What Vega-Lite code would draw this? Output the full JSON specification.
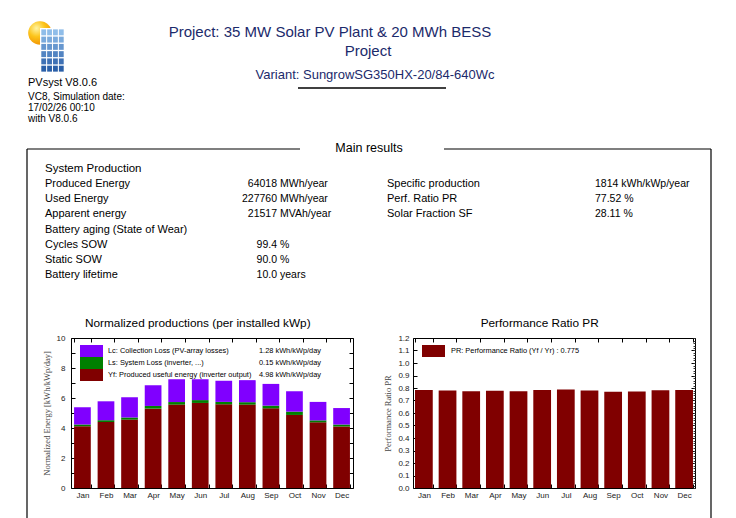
{
"$schema": "https://vega.github.io/schema/vega-lite/v6.json",
"padding": 0,
"background": "white",
"autosize": {"type": "pad"},
"config": {
  "font": "Liberation Sans",
  "view": {"stroke": null},
  "axis": {"grid": false, "labelFont": "Liberation Sans"},
  "title": {"font": "Liberation Sans"},
  "text": {"font": "Liberation Sans"}
},
"datasets": {
  "header": [
    {"role": "app", "line": 0, "text": "PVsyst  V8.0.6"},
    {"role": "meta", "line": 1, "text": "VC8, Simulation date:"},
    {"role": "meta", "line": 2, "text": "17/02/26 00:10"},
    {"role": "meta", "line": 3, "text": "with V8.0.6"},
    {"role": "title", "line": 1, "text": "Project: 35 MW Solar PV Plant & 20 MWh BESS"},
    {"role": "title", "line": 2, "text": "Project"},
    {"role": "variant", "line": 1, "text": "Variant: SungrowSG350HX-20/84-640Wc"},
    {"role": "section", "line": 1, "text": "Main results"},
    {"role": "group", "line": 1, "text": "System  Production"}
  ],
  "results": [
    {"block": "L", "row": 1, "item": "Produced Energy", "num": "64018", "unit": "MWh/year", "value": "64018 MWh/year"},
    {"block": "L", "row": 2, "item": "Used Energy", "num": "227760", "unit": "MWh/year", "value": "227760 MWh/year"},
    {"block": "L", "row": 3, "item": "Apparent energy", "num": "21517", "unit": "MVAh/year", "value": "21517 MVAh/year"},
    {"block": "L", "row": 4, "item": "Battery aging (State of Wear)", "num": "", "unit": "", "value": ""},
    {"block": "L", "row": 5, "item": "Cycles SOW", "num": "99.4", "unit": "%", "value": "99.4 %"},
    {"block": "L", "row": 6, "item": "Static SOW", "num": "90.0", "unit": "%", "value": "90.0 %"},
    {"block": "L", "row": 7, "item": "Battery lifetime", "num": "10.0", "unit": "years", "value": "10.0 years"},
    {"block": "R", "row": 1, "item": "Specific production", "num": "1814", "unit": "kWh/kWp/year", "value": "1814 kWh/kWp/year"},
    {"block": "R", "row": 2, "item": "Perf. Ratio PR", "num": "77.52", "unit": "%", "value": "77.52 %"},
    {"block": "R", "row": 3, "item": "Solar Fraction SF", "num": "28.11", "unit": "%", "value": "28.11 %"}
  ],
  "logo": [
    {"c": 0, "r": 0}, {"c": 1, "r": 0}, {"c": 2, "r": 0}, {"c": 3, "r": 0},
    {"c": 0, "r": 1}, {"c": 1, "r": 1}, {"c": 2, "r": 1}, {"c": 3, "r": 1},
    {"c": 0, "r": 2}, {"c": 1, "r": 2}, {"c": 2, "r": 2}, {"c": 3, "r": 2},
    {"c": 0, "r": 3}, {"c": 1, "r": 3}, {"c": 2, "r": 3}, {"c": 3, "r": 3},
    {"c": 0, "r": 4}, {"c": 1, "r": 4}, {"c": 2, "r": 4}, {"c": 3, "r": 4},
    {"c": 0, "r": 5}, {"c": 1, "r": 5}, {"c": 2, "r": 5}, {"c": 3, "r": 5}
  ],
  "norm": [
    {"month": "Jan", "Yf": 4.11, "Ls": 0.12, "Lc": 1.16},
    {"month": "Feb", "Yf": 4.40, "Ls": 0.12, "Lc": 1.26},
    {"month": "Mar", "Yf": 4.56, "Ls": 0.14, "Lc": 1.35},
    {"month": "Apr", "Yf": 5.29, "Ls": 0.18, "Lc": 1.38},
    {"month": "May", "Yf": 5.56, "Ls": 0.17, "Lc": 1.52},
    {"month": "Jun", "Yf": 5.67, "Ls": 0.19, "Lc": 1.39},
    {"month": "Jul", "Yf": 5.58, "Ls": 0.16, "Lc": 1.41},
    {"month": "Aug", "Yf": 5.56, "Ls": 0.16, "Lc": 1.47},
    {"month": "Sep", "Yf": 5.31, "Ls": 0.18, "Lc": 1.45},
    {"month": "Oct", "Yf": 4.87, "Ls": 0.22, "Lc": 1.36},
    {"month": "Nov", "Yf": 4.38, "Ls": 0.13, "Lc": 1.23},
    {"month": "Dec", "Yf": 4.10, "Ls": 0.13, "Lc": 1.10}
  ],
  "normLegend": [
    {"k": "Lc", "label": "Lc: Collection Loss (PV-array losses)", "val": "1.28 kWh/kWp/day"},
    {"k": "Ls", "label": "Ls: System Loss  (inverter, ...)", "val": "0.15 kWh/kWp/day"},
    {"k": "Yf", "label": "Yf: Produced useful energy  (inverter output)", "val": "4.98 kWh/kWp/day"}
  ],
  "pr": [
    {"month": "Jan", "PR": 0.785}, {"month": "Feb", "PR": 0.780}, {"month": "Mar", "PR": 0.774},
    {"month": "Apr", "PR": 0.779}, {"month": "May", "PR": 0.774}, {"month": "Jun", "PR": 0.785},
    {"month": "Jul", "PR": 0.788}, {"month": "Aug", "PR": 0.780}, {"month": "Sep", "PR": 0.770},
    {"month": "Oct", "PR": 0.773}, {"month": "Nov", "PR": 0.782}, {"month": "Dec", "PR": 0.785}
  ],
  "prLegend": [
    {"k": "PR", "label": "PR: Performance Ratio (Yf / Yr) :  0.775"}
  ]
},
"spacing": 0,
"bounds": "flush",
"vconcat": [
  {
    "width": 736,
    "height": 338,
    "data": {"values": [{"doc": "report page"}]},
    "resolve": {"scale": {"x": "independent", "y": "independent", "color": "independent"}},
    "layer": [
      {"mark": {"type": "rule", "color": "#000", "strokeWidth": 1.2},
       "encoding": {
         "x": {"datum": 27, "type": "quantitative", "scale": {"domain": [0, 736], "range": [0, 736], "nice": false, "zero": false}, "axis": null},
         "x2": {"datum": 300},
         "y": {"datum": 149, "type": "quantitative", "scale": {"domain": [0, 338], "range": [0, 338], "nice": false, "zero": false}, "axis": null}}},
      {"mark": {"type": "rule", "color": "#000", "strokeWidth": 1.2},
       "encoding": {
         "x": {"datum": 444, "type": "quantitative", "scale": {"domain": [0, 736], "range": [0, 736], "nice": false, "zero": false}, "axis": null},
         "x2": {"datum": 711},
         "y": {"datum": 149, "type": "quantitative", "scale": {"domain": [0, 338], "range": [0, 338], "nice": false, "zero": false}, "axis": null}}},
      {"mark": {"type": "rule", "color": "#000", "strokeWidth": 1.2},
       "encoding": {
         "x": {"datum": 27, "type": "quantitative", "scale": {"domain": [0, 736], "range": [0, 736], "nice": false, "zero": false}, "axis": null},
         "y": {"datum": 149, "type": "quantitative", "scale": {"domain": [0, 338], "range": [0, 338], "nice": false, "zero": false}, "axis": null},
         "y2": {"datum": 518}}},
      {"mark": {"type": "rule", "color": "#000", "strokeWidth": 1.2},
       "encoding": {
         "x": {"datum": 711, "type": "quantitative", "scale": {"domain": [0, 736], "range": [0, 736], "nice": false, "zero": false}, "axis": null},
         "y": {"datum": 149, "type": "quantitative", "scale": {"domain": [0, 338], "range": [0, 338], "nice": false, "zero": false}, "axis": null},
         "y2": {"datum": 518}}},
      {"mark": {"type": "rule", "color": "#000", "strokeWidth": 1.5},
       "encoding": {
         "x": {"datum": 298, "type": "quantitative", "scale": {"domain": [0, 736], "range": [0, 736], "nice": false, "zero": false}, "axis": null},
         "x2": {"datum": 446},
         "y": {"datum": 88, "type": "quantitative", "scale": {"domain": [0, 338], "range": [0, 338], "nice": false, "zero": false}, "axis": null}}},
      {"mark": {"type": "point", "filled": true, "size": 556, "opacity": 1, "strokeWidth": 0,
                "fill": {"gradient": "radial", "x1": 0.35, "y1": 0.3, "r1": 0, "x2": 0.35, "y2": 0.3, "r2": 0.8,
                         "stops": [{"offset": 0, "color": "#fff4a3"}, {"offset": 0.45, "color": "#fcc419"}, {"offset": 1, "color": "#ee8a00"}]}},
       "encoding": {
         "x": {"datum": 40, "type": "quantitative", "scale": {"domain": [0, 736], "range": [0, 736], "nice": false, "zero": false}, "axis": null},
         "y": {"datum": 33, "type": "quantitative", "scale": {"domain": [0, 338], "range": [0, 338], "nice": false, "zero": false}, "axis": null}}},
      {"mark": {"type": "rect", "color": "#ffffff"},
       "encoding": {
         "x": {"datum": 40, "type": "quantitative", "scale": {"domain": [0, 736], "range": [0, 736], "nice": false, "zero": false}, "axis": null},
         "x2": {"datum": 65},
         "y": {"datum": 28, "type": "quantitative", "scale": {"domain": [0, 338], "range": [0, 338], "nice": false, "zero": false}, "axis": null},
         "y2": {"datum": 73}}},
      {"data": {"name": "logo"},
       "mark": {"type": "rect"},
       "encoding": {
         "x": {"field": "c", "type": "ordinal", "scale": {"type": "band", "range": [41, 64], "paddingInner": 0.18, "paddingOuter": 0.05}, "axis": null},
         "y": {"field": "r", "type": "ordinal", "scale": {"type": "band", "range": [29, 72], "paddingInner": 0.18, "paddingOuter": 0.05}, "axis": null},
         "color": {"field": "r", "type": "quantitative", "scale": {"range": ["#8fbde9", "#2a5fa8"]}, "legend": null}}},
      {"data": {"name": "header"}, "transform": [{"filter": "datum.role == 'app'"}],
       "mark": {"type": "text", "align": "left", "baseline": "middle", "fontSize": 11, "color": "#000"},
       "encoding": {
         "x": {"datum": 28, "type": "quantitative", "scale": {"domain": [0, 736], "range": [0, 736], "nice": false, "zero": false}, "axis": null},
         "y": {"datum": 83, "type": "quantitative", "scale": {"domain": [0, 338], "range": [0, 338], "nice": false, "zero": false}, "axis": null},
         "text": {"field": "text"}}},
      {"data": {"name": "header"}, "transform": [{"filter": "datum.role == 'meta'"}],
       "mark": {"type": "text", "align": "left", "baseline": "middle", "fontSize": 10, "color": "#000"},
       "encoding": {
         "x": {"datum": 28, "type": "quantitative", "scale": {"domain": [0, 736], "range": [0, 736], "nice": false, "zero": false}, "axis": null},
         "y": {"field": "line", "type": "ordinal", "scale": {"type": "point", "domain": [1, 2, 3], "range": [97, 119], "padding": 0}, "axis": null},
         "text": {"field": "text"}}},
      {"data": {"name": "header"}, "transform": [{"filter": "datum.role == 'title'"}],
       "mark": {"type": "text", "align": "center", "baseline": "middle", "fontSize": 15, "color": "#1b2a6b"},
       "encoding": {
         "x": {"field": "line", "type": "ordinal", "scale": {"type": "point", "domain": [1, 2], "range": [330, 368], "padding": 0}, "axis": null},
         "y": {"field": "line", "type": "ordinal", "scale": {"type": "point", "domain": [1, 2], "range": [32, 51], "padding": 0}, "axis": null},
         "text": {"field": "text"}}},
      {"data": {"name": "header"}, "transform": [{"filter": "datum.role == 'variant'"}],
       "mark": {"type": "text", "align": "center", "baseline": "middle", "fontSize": 13, "color": "#1b2a6b"},
       "encoding": {
         "x": {"datum": 375, "type": "quantitative", "scale": {"domain": [0, 736], "range": [0, 736], "nice": false, "zero": false}, "axis": null},
         "y": {"datum": 75, "type": "quantitative", "scale": {"domain": [0, 338], "range": [0, 338], "nice": false, "zero": false}, "axis": null},
         "text": {"field": "text"}}},
      {"data": {"name": "header"}, "transform": [{"filter": "datum.role == 'section'"}],
       "mark": {"type": "text", "align": "center", "baseline": "middle", "fontSize": 12.5, "color": "#000"},
       "encoding": {
         "x": {"datum": 369, "type": "quantitative", "scale": {"domain": [0, 736], "range": [0, 736], "nice": false, "zero": false}, "axis": null},
         "y": {"datum": 148, "type": "quantitative", "scale": {"domain": [0, 338], "range": [0, 338], "nice": false, "zero": false}, "axis": null},
         "text": {"field": "text"}}},
      {"data": {"name": "header"}, "transform": [{"filter": "datum.role == 'group'"}],
       "mark": {"type": "text", "align": "left", "baseline": "middle", "fontSize": 11.5, "color": "#000"},
       "encoding": {
         "x": {"datum": 45, "type": "quantitative", "scale": {"domain": [0, 736], "range": [0, 736], "nice": false, "zero": false}, "axis": null},
         "y": {"datum": 169, "type": "quantitative", "scale": {"domain": [0, 338], "range": [0, 338], "nice": false, "zero": false}, "axis": null},
         "text": {"field": "text"}}},
      {"data": {"name": "results"}, "transform": [{"filter": "datum.block == 'L'"}],
       "mark": {"type": "text", "align": "left", "baseline": "middle", "fontSize": 11, "color": "#000"},
       "encoding": {
         "x": {"datum": 45, "type": "quantitative", "scale": {"domain": [0, 736], "range": [0, 736], "nice": false, "zero": false}, "axis": null},
         "y": {"field": "row", "type": "ordinal", "scale": {"type": "point", "domain": [1, 2, 3, 4, 5, 6, 7], "range": [184, 275], "padding": 0}, "axis": null},
         "text": {"field": "item"}}},
      {"data": {"name": "results"}, "transform": [{"filter": "datum.block == 'L'"}],
       "mark": {"type": "text", "align": "right", "baseline": "middle", "fontSize": 10.5, "color": "#000"},
       "encoding": {
         "x": {"datum": 277, "type": "quantitative", "scale": {"domain": [0, 736], "range": [0, 736], "nice": false, "zero": false}, "axis": null},
         "y": {"field": "row", "type": "ordinal", "scale": {"type": "point", "domain": [1, 2, 3, 4, 5, 6, 7], "range": [184, 275], "padding": 0}, "axis": null},
         "text": {"field": "num"}}},
      {"data": {"name": "results"}, "transform": [{"filter": "datum.block == 'L'"}],
       "mark": {"type": "text", "align": "left", "baseline": "middle", "fontSize": 10.5, "color": "#000"},
       "encoding": {
         "x": {"datum": 280, "type": "quantitative", "scale": {"domain": [0, 736], "range": [0, 736], "nice": false, "zero": false}, "axis": null},
         "y": {"field": "row", "type": "ordinal", "scale": {"type": "point", "domain": [1, 2, 3, 4, 5, 6, 7], "range": [184, 275], "padding": 0}, "axis": null},
         "text": {"field": "unit"}}},
      {"data": {"name": "results"}, "transform": [{"filter": "datum.block == 'R'"}],
       "mark": {"type": "text", "align": "left", "baseline": "middle", "fontSize": 11, "color": "#000"},
       "encoding": {
         "x": {"datum": 387, "type": "quantitative", "scale": {"domain": [0, 736], "range": [0, 736], "nice": false, "zero": false}, "axis": null},
         "y": {"field": "row", "type": "ordinal", "scale": {"type": "point", "domain": [1, 2, 3, 4, 5, 6, 7], "range": [184, 275], "padding": 0}, "axis": null},
         "text": {"field": "item"}}},
      {"data": {"name": "results"}, "transform": [{"filter": "datum.block == 'R'"}],
       "mark": {"type": "text", "align": "left", "baseline": "middle", "fontSize": 10.5, "color": "#000"},
       "encoding": {
         "x": {"datum": 595, "type": "quantitative", "scale": {"domain": [0, 736], "range": [0, 736], "nice": false, "zero": false}, "axis": null},
         "y": {"field": "row", "type": "ordinal", "scale": {"type": "point", "domain": [1, 2, 3, 4, 5, 6, 7], "range": [184, 275], "padding": 0}, "axis": null},
         "text": {"field": "value"}}}
    ]
  },
  {
    "spacing": 60,
    "bounds": "flush",
    "hconcat": [
      {"width": 11, "height": 150, "data": {"values": [{"gap": 1}]}, "mark": {"type": "point", "opacity": 0}},
      {
        "width": 282,
        "height": 150,
        "view": {"stroke": "#000", "strokeWidth": 1},
        "title": {"text": "Normalized productions (per installed kWp)", "frame": "bounds", "anchor": "middle", "fontSize": 11.8, "fontWeight": "normal", "color": "#000", "baseline": "alphabetic", "offset": -5},
        "resolve": {"scale": {"x": "independent", "y": "independent"}},
        "layer": [
          {"data": {"name": "norm"},
           "transform": [{"fold": ["Yf", "Ls", "Lc"], "as": ["k", "v"]}],
           "mark": {"type": "bar"},
           "encoding": {
             "x": {"field": "month", "type": "ordinal", "sort": ["Jan","Feb","Mar","Apr","May","Jun","Jul","Aug","Sep","Oct","Nov","Dec"],
                   "scale": {"domain": ["Jan","Feb","Mar","Apr","May","Jun","Jul","Aug","Sep","Oct","Nov","Dec"], "paddingInner": 0.29, "paddingOuter": 0.13},
                   "axis": {"title": null, "labelAngle": 0, "labelFontSize": 8, "labelColor": "#222", "domain": false, "tickBand": "extent", "tickSize": -4, "tickColor": "#000", "labelPadding": 7}},
             "y": {"field": "v", "type": "quantitative", "stack": "zero", "scale": {"domain": [0, 10], "nice": false},
                   "axis": {"title": "Normalized Energy [kWh/kWp/day]", "titleFont": "Liberation Serif", "titleFontSize": 8.5, "titleFontWeight": "normal", "titleColor": "#444", "titlePadding": 5,
                            "values": [0,1,2,3,4,5,6,7,8,9,10], "labelExpr": "datum.value % 2 == 0 ? datum.label : ''",
                            "labelFontSize": 8, "labelColor": "#222", "domain": false, "tickSize": -4, "tickColor": "#000", "labelPadding": 10}},
             "color": {"field": "k", "type": "nominal", "scale": {"domain": ["Lc", "Ls", "Yf"], "range": ["#8000ff", "#008000", "#800000"]}, "legend": null},
             "order": {"field": "k", "sort": "descending"}}},
          {"data": {"name": "norm"},
           "mark": {"type": "point", "opacity": 0},
           "encoding": {
             "x": {"field": "month", "type": "ordinal", "sort": ["Jan","Feb","Mar","Apr","May","Jun","Jul","Aug","Sep","Oct","Nov","Dec"],
                   "scale": {"domain": ["Jan","Feb","Mar","Apr","May","Jun","Jul","Aug","Sep","Oct","Nov","Dec"], "paddingInner": 0.29, "paddingOuter": 0.13},
                   "axis": {"orient": "top", "title": null, "labels": false, "domain": false, "tickBand": "extent", "tickSize": -4, "tickColor": "#000"}},
             "y": {"datum": 0, "type": "quantitative", "scale": {"domain": [0, 10], "nice": false},
                   "axis": {"orient": "right", "title": null, "labels": false, "domain": false, "values": [0,1,2,3,4,5,6,7,8,9,10], "tickSize": -4, "tickColor": "#000"}}}},
          {"data": {"name": "normLegend"},
           "mark": {"type": "rect"},
           "encoding": {
             "x": {"datum": 9, "type": "quantitative", "scale": {"domain": [0, 282], "range": [0, 282], "nice": false, "zero": false}, "axis": null},
             "x2": {"datum": 32},
             "y": {"field": "k", "type": "nominal", "scale": {"type": "band", "domain": ["Lc", "Ls", "Yf"], "range": [7, 43], "paddingInner": 0, "paddingOuter": 0}, "axis": null},
             "color": {"field": "k", "type": "nominal", "legend": null}}},
          {"data": {"name": "normLegend"},
           "mark": {"type": "text", "align": "left", "baseline": "middle", "fontSize": 7.4, "color": "#000"},
           "encoding": {
             "x": {"datum": 37, "type": "quantitative", "scale": {"domain": [0, 282], "range": [0, 282], "nice": false, "zero": false}, "axis": null},
             "y": {"field": "k", "type": "nominal", "scale": {"type": "band", "domain": ["Lc", "Ls", "Yf"], "range": [7, 43], "paddingInner": 0, "paddingOuter": 0}, "axis": null},
             "text": {"field": "label"}}},
          {"data": {"name": "normLegend"},
           "mark": {"type": "text", "align": "left", "baseline": "middle", "fontSize": 7.4, "color": "#000"},
           "encoding": {
             "x": {"datum": 188, "type": "quantitative", "scale": {"domain": [0, 282], "range": [0, 282], "nice": false, "zero": false}, "axis": null},
             "y": {"field": "k", "type": "nominal", "scale": {"type": "band", "domain": ["Lc", "Ls", "Yf"], "range": [7, 43], "paddingInner": 0, "paddingOuter": 0}, "axis": null},
             "text": {"field": "val"}}}
        ]
      },
      {
        "width": 282,
        "height": 150,
        "view": {"stroke": "#000", "strokeWidth": 1},
        "title": {"text": "Performance Ratio PR", "frame": "bounds", "anchor": "middle", "fontSize": 11.8, "fontWeight": "normal", "color": "#000", "baseline": "alphabetic", "offset": -5},
        "resolve": {"scale": {"x": "independent", "y": "independent"}},
        "layer": [
          {"data": {"name": "pr"},
           "mark": {"type": "bar", "color": "#800000"},
           "encoding": {
             "x": {"field": "month", "type": "ordinal", "sort": ["Jan","Feb","Mar","Apr","May","Jun","Jul","Aug","Sep","Oct","Nov","Dec"],
                   "scale": {"domain": ["Jan","Feb","Mar","Apr","May","Jun","Jul","Aug","Sep","Oct","Nov","Dec"], "paddingInner": 0.25, "paddingOuter": 0.085},
                   "axis": {"title": null, "labelAngle": 0, "labelFontSize": 8, "labelColor": "#222", "domain": false, "tickBand": "extent", "tickSize": -4, "tickColor": "#000", "labelPadding": 7}},
             "y": {"field": "PR", "type": "quantitative", "scale": {"domain": [0, 1.2], "nice": false},
                   "axis": {"title": "Performance Ratio PR", "titleFont": "Liberation Serif", "titleFontSize": 8.5, "titleFontWeight": "normal", "titleColor": "#444", "titlePadding": 5,
                            "values": [0,0.1,0.2,0.3,0.4,0.5,0.6,0.7,0.8,0.9,1.0,1.1,1.2], "format": ".1f",
                            "labelFontSize": 8, "labelColor": "#222", "domain": false, "tickSize": -4, "tickColor": "#000", "labelPadding": 8}}}},
          {"data": {"name": "pr"},
           "mark": {"type": "point", "opacity": 0},
           "encoding": {
             "x": {"field": "month", "type": "ordinal", "sort": ["Jan","Feb","Mar","Apr","May","Jun","Jul","Aug","Sep","Oct","Nov","Dec"],
                   "scale": {"domain": ["Jan","Feb","Mar","Apr","May","Jun","Jul","Aug","Sep","Oct","Nov","Dec"], "paddingInner": 0.25, "paddingOuter": 0.085},
                   "axis": {"orient": "top", "title": null, "labels": false, "domain": false, "tickBand": "extent", "tickSize": -4, "tickColor": "#000"}},
             "y": {"datum": 0, "type": "quantitative", "scale": {"domain": [0, 1.2], "nice": false},
                   "axis": {"orient": "right", "title": null, "labels": false, "domain": false, "values": [0,0.1,0.2,0.3,0.4,0.5,0.6,0.7,0.8,0.9,1.0,1.1,1.2], "tickSize": -4, "tickColor": "#000"}}}},
          {"data": {"name": "pr"},
           "mark": {"type": "point", "opacity": 0},
           "encoding": {
             "y": {"datum": 0, "type": "quantitative", "scale": {"domain": [0, 1.2], "nice": false},
                   "axis": {"orient": "right", "title": null, "labels": false, "domain": false,
                            "values": [0,0.02,0.04,0.06,0.08,0.1,0.12,0.14,0.16,0.18,0.2,0.22,0.24,0.26,0.28,0.3,0.32,0.34,0.36,0.38,0.4,0.42,0.44,0.46,0.48,0.5,0.52,0.54,0.56,0.58,0.6,0.62,0.64,0.66,0.68,0.7,0.72,0.74,0.76,0.78,0.8,0.82,0.84,0.86,0.88,0.9,0.92,0.94,0.96,0.98,1,1.02,1.04,1.06,1.08,1.1,1.12,1.14,1.16,1.18,1.2],
                            "tickSize": -2, "tickColor": "#333"}}}},
          {"data": {"name": "prLegend"},
           "mark": {"type": "rect", "color": "#800000"},
           "encoding": {
             "x": {"datum": 9, "type": "quantitative", "scale": {"domain": [0, 282], "range": [0, 282], "nice": false, "zero": false}, "axis": null},
             "x2": {"datum": 32},
             "y": {"field": "k", "type": "nominal", "scale": {"type": "band", "domain": ["PR"], "range": [7, 19], "paddingInner": 0, "paddingOuter": 0}, "axis": null}}},
          {"data": {"name": "prLegend"},
           "mark": {"type": "text", "align": "left", "baseline": "middle", "fontSize": 7.4, "color": "#000"},
           "encoding": {
             "x": {"datum": 38, "type": "quantitative", "scale": {"domain": [0, 282], "range": [0, 282], "nice": false, "zero": false}, "axis": null},
             "y": {"field": "k", "type": "nominal", "scale": {"type": "band", "domain": ["PR"], "range": [7, 19], "paddingInner": 0, "paddingOuter": 0}, "axis": null},
             "text": {"field": "label"}}}
        ]
      }
    ]
  }
]
}
